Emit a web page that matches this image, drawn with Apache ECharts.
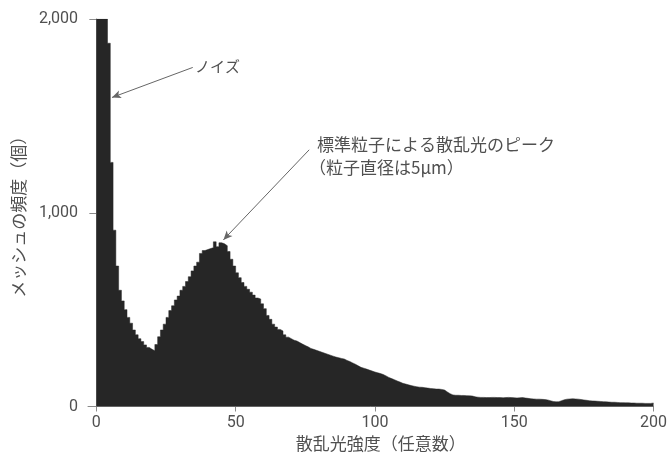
<!DOCTYPE html>
<html>
<head>
<meta charset="utf-8">
<script src="https://cdn.jsdelivr.net/npm/echarts@6/dist/echarts.min.js"></script>
<style>html,body{margin:0;padding:0;background:#fff;}#c{width:670px;height:463px;}</style>
</head>
<body>
<div id="c"></div>
<script>
// Histogram counts per bin (bin width 1, bins start at 0)
const binCounts = [
  2000,2000,2000,2000,1875,1260,910,725,600,545,
  500,460,430,395,370,350,335,318,305,295,
  288,320,360,395,425,460,495,520,550,570,
  600,620,645,670,700,725,745,790,805,810,
  815,820,850,825,845,840,830,800,760,725,
  690,665,640,620,605,590,575,560,555,530,
  505,470,450,425,410,398,390,370,358,350,
  342,338,330,322,315,308,300,295,290,285,
  280,275,270,265,260,255,252,248,245,238,
  232,225,218,210,202,198,193,188,183,178,
  174,170,165,158,150,144,138,132,126,120,
  116,112,108,105,102,100,99,97,95,93,
  92,90,90,88,85,75,66,60,58,58,
  57,57,56,55,54,50,48,47,47,46,
  46,47,47,46,46,45,46,47,46,45,
  44,45,46,44,42,40,39,38,38,37,
  36,34,30,26,24,25,30,35,38,39,
  40,39,38,36,34,32,30,29,28,27,
  26,25,24,23,22,22,21,20,20,19,
  19,18,18,17,17,17,16,16,16,18
];
const binStart = 0;
const binWidth = 1;
const xTicks = [0, 50, 100, 150, 200];
const yTicks = [0, 1000, 2000];
const xName = '散乱光強度（任意数）';
const yName = 'メッシュの頻度（個）';
const noiseLabel = 'ノイズ';
const peakLabel1 = '標準粒子による散乱光のピーク';
const peakLabel2 = '（粒子直径は5μm）';
// annotation arrows in data coordinates [x, y]
const noiseArrow = [[34.6, 1750], [5.6, 1595]];
const peakArrow = [[76.4, 1325], [45.6, 860]];

const stepData = binCounts.map((v, i) => [binStart + i * binWidth, v]);
stepData.push([binStart + binCounts.length * binWidth, binCounts[binCounts.length - 1]]);

const axisColor = '#8a8a8a';
const textColor = '#505050';
const jp = '"Noto Sans CJK JP", sans-serif';

const chart = echarts.init(document.getElementById('c'));
chart.setOption({
  animation: false,
  backgroundColor: '#fff',
  grid: { left: 88, right: 13, top: 19, bottom: 56.5, containLabel: false },
  xAxis: {
    type: 'value', min: -3, max: 200,
    name: xName, nameLocation: 'middle', nameGap: 26,
    nameTextStyle: { color: textColor, fontSize: 17, fontFamily: jp, padding: [0, 0, 0, 20] },
    axisLine: { show: true, lineStyle: { color: axisColor, width: 1 } },
    axisTick: { show: true, length: 5, lineStyle: { color: axisColor }, customValues: xTicks },
    axisLabel: { color: textColor, fontSize: 16, fontFamily: 'Roboto', margin: 8, customValues: xTicks },
    splitLine: { show: false }
  },
  yAxis: {
    type: 'value', min: 0, max: 2000, interval: 1000,
    name: yName, nameLocation: 'middle', nameGap: 61,
    nameTextStyle: { color: textColor, fontSize: 17, fontFamily: jp },
    axisLine: { show: true, lineStyle: { color: axisColor, width: 1 } },
    axisTick: { show: true, length: 7, lineStyle: { color: axisColor } },
    axisLabel: { color: textColor, fontSize: 16, fontFamily: 'Roboto', margin: 10,
      formatter: v => v.toLocaleString('en-US') },
    splitLine: { show: false }
  },
  series: [{
    type: 'line',
    step: 'end',
    data: stepData,
    showSymbol: false,
    symbol: 'none',
    lineStyle: { width: 0.5, color: '#262626' },
    areaStyle: { color: '#262626', opacity: 1 },
    markLine: {
      silent: true,
      symbol: ['none', 'arrow'],
      symbolSize: [6, 9],
      label: { show: false },
      lineStyle: { color: '#666', width: 1, type: 'solid' },
      data: [
        [{ coord: noiseArrow[0] }, { coord: noiseArrow[1] }],
        [{ coord: peakArrow[0] }, { coord: peakArrow[1] }]
      ]
    }
  }],
  graphic: [
    { type: 'text', left: 195, top: 59, style: { text: noiseLabel, fill: textColor, font: '15px ' + jp } },
    { type: 'text', left: 317, top: 136, style: { text: peakLabel1, fill: textColor, font: '17px ' + jp } },
    { type: 'text', left: 309, top: 159, style: { text: peakLabel2, fill: textColor, font: '17px ' + jp } }
  ]
});
</script>
</body>
</html>
